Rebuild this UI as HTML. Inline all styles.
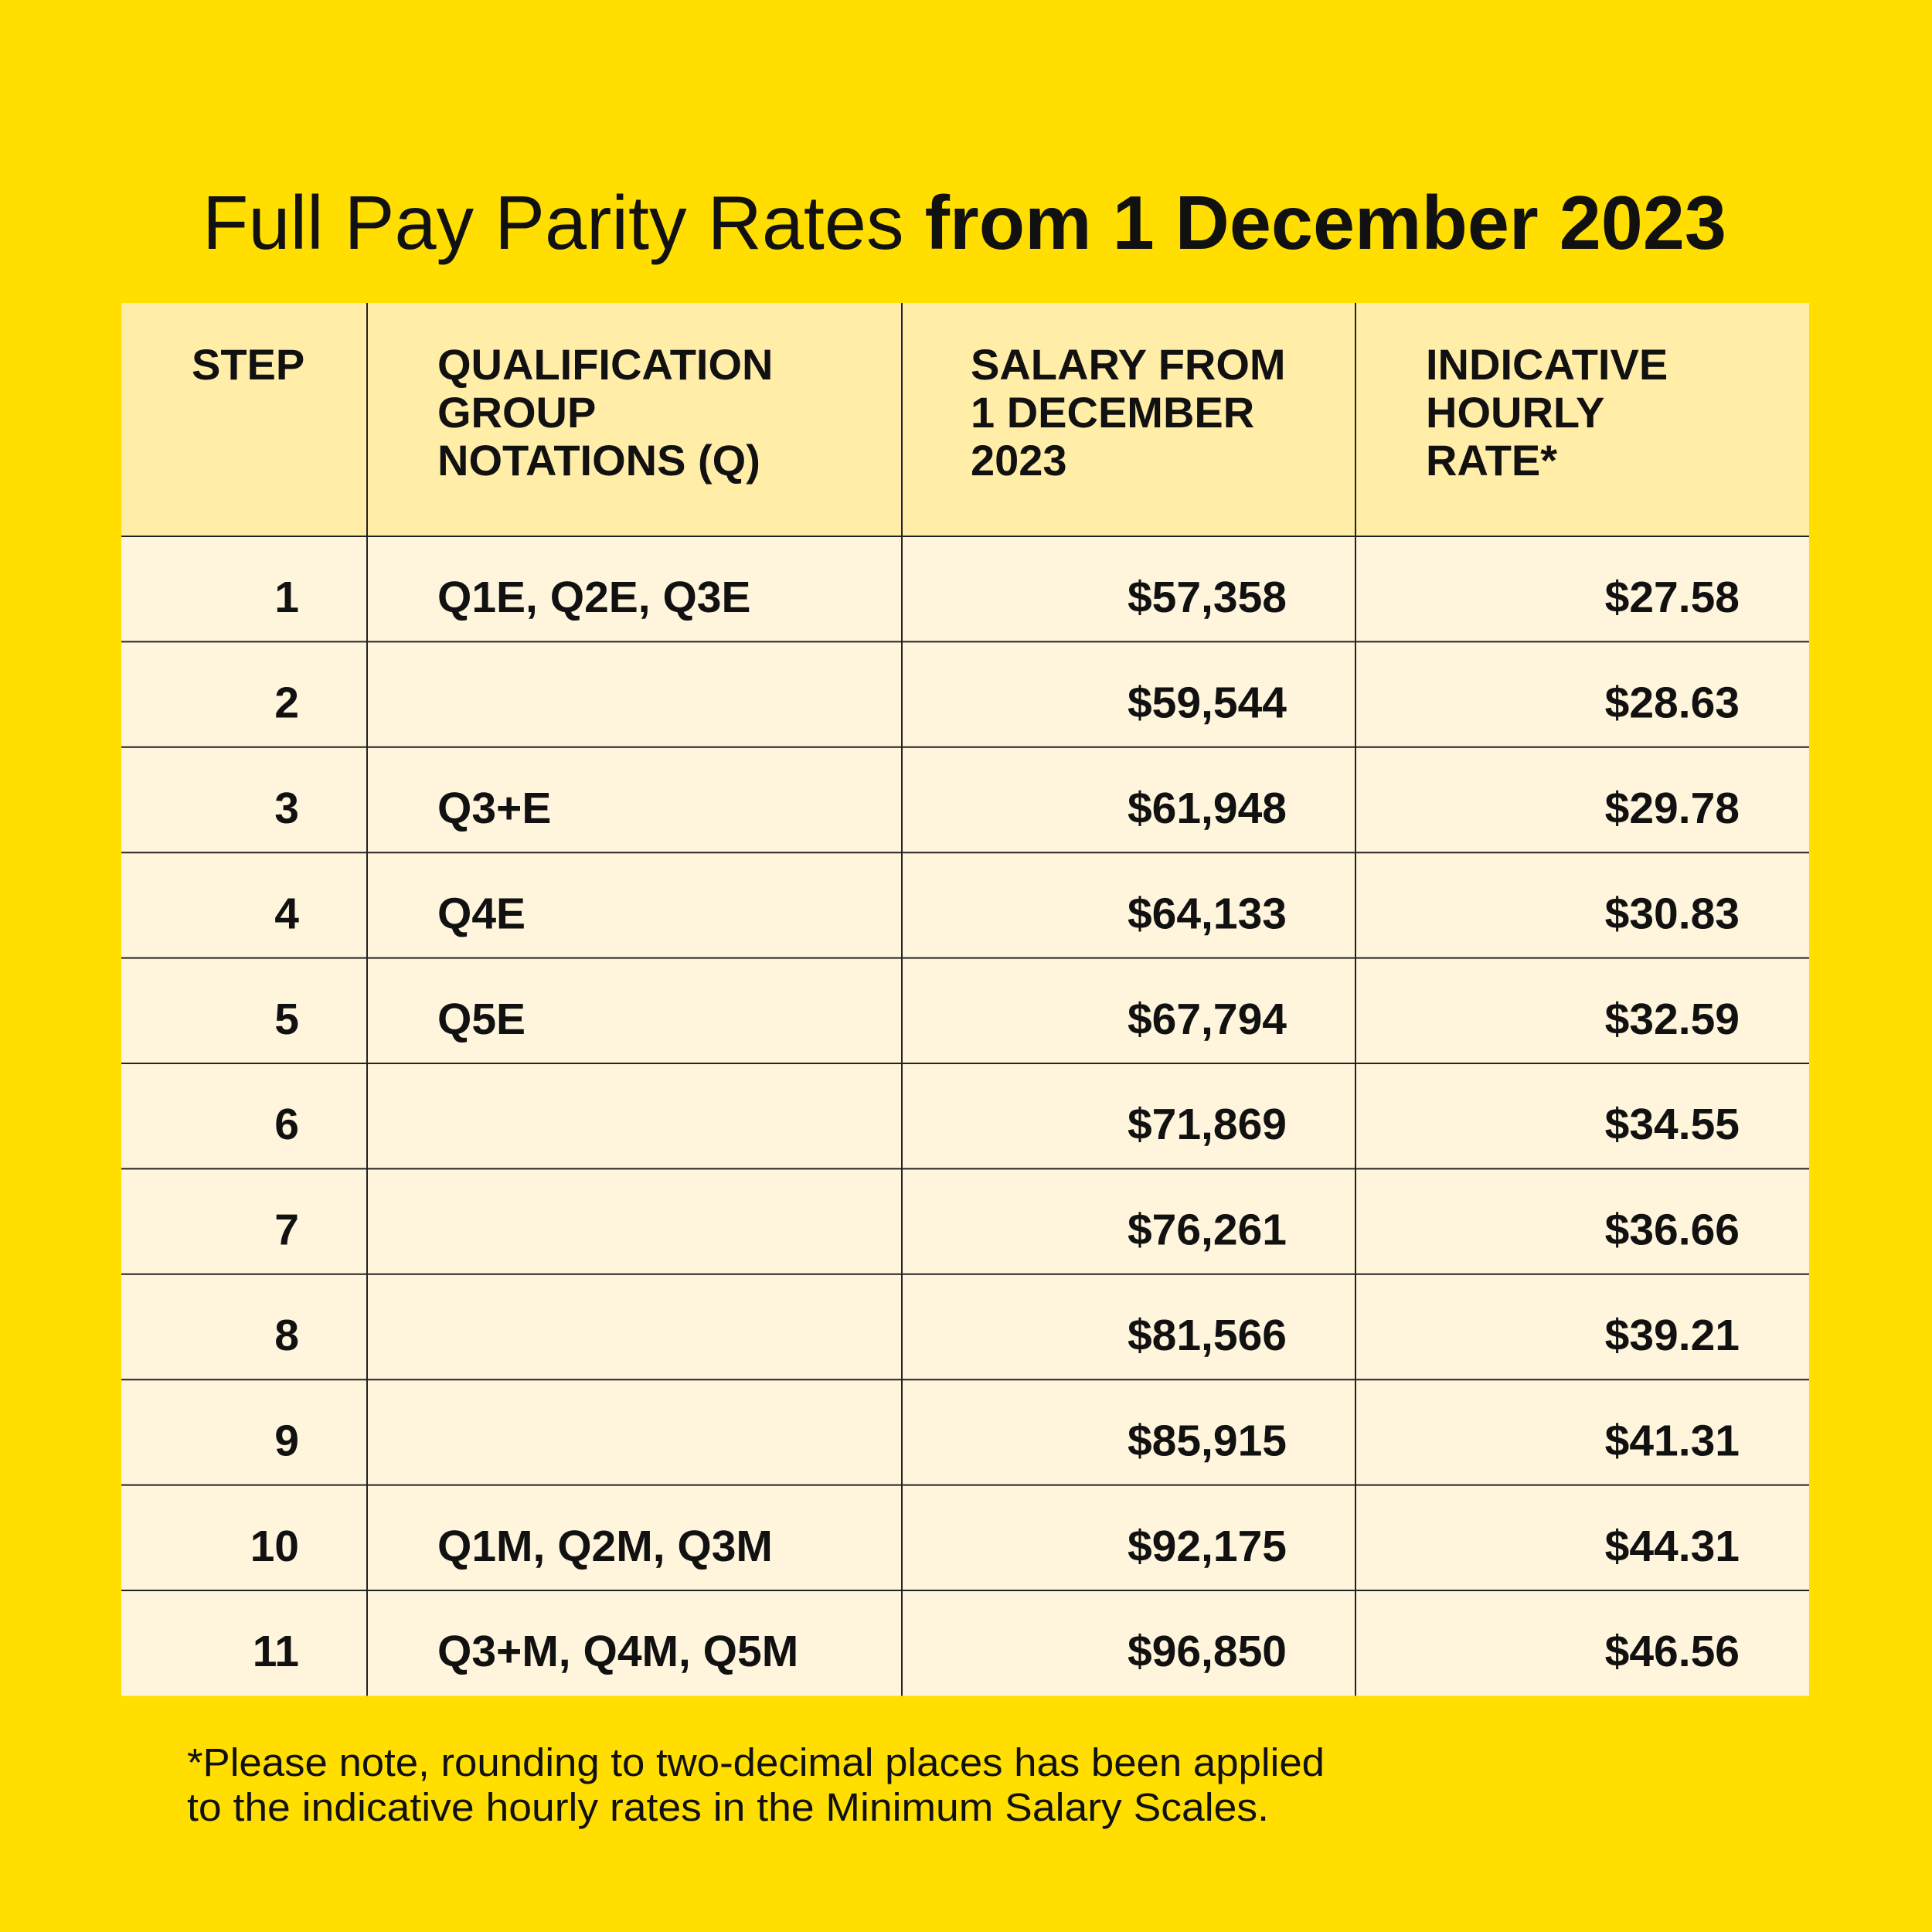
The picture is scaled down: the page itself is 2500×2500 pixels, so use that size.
<!DOCTYPE html>
<html><head><meta charset="utf-8">
<style>html,body{margin:0;padding:0;background:#FFDE00;}svg{display:block;font-family:"Liberation Sans",sans-serif;}</style>
</head><body>
<svg id="s" width="2500" height="2500" viewBox="0 0 2500 2500">
<rect width="2500" height="2500" fill="#FFDE00"/>
<text x="1248" y="322" text-anchor="middle" font-size="98" fill="#111" textLength="1972" lengthAdjust="spacingAndGlyphs">Full Pay Parity Rates <tspan font-weight="bold">from 1 December 2023</tspan></text>
<rect x="157" y="392" width="2184" height="302" fill="#FFEDA8"/>
<g id="rows"></g>
<g id="hdr" font-size="56" font-weight="bold" fill="#111"></g>
<g id="lines" stroke="#222" stroke-width="2"></g>
<text x="242" y="2298" font-size="51" fill="#111" textLength="1472" lengthAdjust="spacingAndGlyphs">*Please note, rounding to two-decimal places has been applied</text>
<text x="242" y="2356" font-size="51" fill="#111" textLength="1400" lengthAdjust="spacingAndGlyphs">to the indicative hourly rates in the Minimum Salary Scales.</text>
</svg>
<script>
const steps=["1","2","3","4","5","6","7","8","9","10","11"];
const quals=["Q1E, Q2E, Q3E","","Q3+E","Q4E","Q5E","","","","","Q1M, Q2M, Q3M","Q3+M, Q4M, Q5M"];
const salaries=["$57,358","$59,544","$61,948","$64,133","$67,794","$71,869","$76,261","$81,566","$85,915","$92,175","$96,850"];
const hourly=["$27.58","$28.63","$29.78","$30.83","$32.59","$34.55","$36.66","$39.21","$41.31","$44.31","$46.56"];
const headers=[["STEP"],["QUALIFICATION","GROUP","NOTATIONS (Q)"],["SALARY FROM","1 DECEMBER","2023"],["INDICATIVE","HOURLY","RATE*"]];
const NS="http://www.w3.org/2000/svg";
const L=157,R=2341,T=392,HB=694,RH=136.4;
const colX=[475,1167,1754];
const hx=[248,566,1256,1845];
function mk(t,a,p,txt){const e=document.createElementNS(NS,t);for(const k in a)e.setAttribute(k,a[k]);if(txt!==undefined)e.textContent=txt;p.appendChild(e);return e;}
const rows=document.getElementById('rows'),hdr=document.getElementById('hdr'),lines=document.getElementById('lines');
headers.forEach((h,i)=>{h.forEach((ln,j)=>{
const e=mk('text',{x:hx[i],y:491+j*62},hdr,ln);


});});
steps.forEach((s,i)=>{
const y=HB+i*RH;
const r=mk('rect',{x:L,y:y,width:R-L,height:RH,fill:'#FFF5DC'},rows);


const by=y+RH/2+30;
const g=mk('g',{'font-size':57,'font-weight':'bold',fill:'#111'},rows);
const a=mk('text',{x:387,y:by,'text-anchor':'end'},g,s);


const b=mk('text',{x:566,y:by},g,quals[i]);


const c=mk('text',{x:1665,y:by,'text-anchor':'end'},g,salaries[i]);


const d=mk('text',{x:2251,y:by,'text-anchor':'end'},g,hourly[i]);


});
const bottom=HB+steps.length*RH;
colX.forEach(x=>{const l=mk('line',{x1:x,x2:x,y1:T,y2:bottom},lines);

});
for(let i=0;i<steps.length;i++){const y=HB+i*RH;const l=mk('line',{x1:L,x2:R,y1:y,y2:y},lines);

}
</script>
</body></html>
